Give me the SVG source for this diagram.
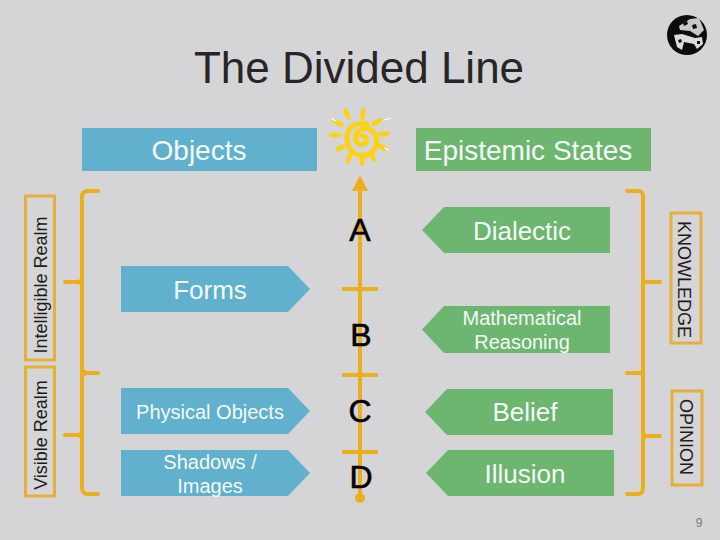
<svg xmlns="http://www.w3.org/2000/svg" width="720" height="540" viewBox="0 0 720 540">
<style>
text{font-family:"Liberation Sans",Arial,sans-serif;fill:#262626;text-anchor:middle}
.blue{fill:#60b0ce}.green{fill:#6cb670}
.lt{fill:#f6faf6}
.line{fill:none;stroke:#edae1e;stroke-width:4;stroke-linecap:round}
.rule{fill:none;stroke:#edae1e;stroke-width:4}
.flare{fill:#edae1e}
.box{fill:none;stroke:#e6af3a;stroke-width:3}
.sun{fill:#fcd116}
.spiral{fill:none;stroke:#fcd116;stroke-width:5;stroke-linecap:round}
.glint{fill:none;stroke:#fff;stroke-width:1.200;stroke-linecap:round}
.ltr{fill:#000;stroke:#000;stroke-width:.6}
.side{font-size:18px;fill:#1c1c1c}
</style>
<rect width="720" height="540" fill="#d5d5d7"/>
<text x="359" y="83" font-size="44">The Divided Line</text>
<g id="emblem"><circle cx="687" cy="35" r="20" fill="#0c0c0c"/>
<path d="M679 26L690 19L699 18L704 30L698 36L690 31L680 30Z" fill="#c8c8c8"/>
<path d="M674 35L682 34L695 38L702 37L703 44L697 49L694 44L684 42L682 50L677 47Z" fill="#dcdcdc"/>
<path d="M683 23l4-2 1 3-4 2zM692 25l4-1 1 4-4 1zM678 40l3-1 1 3-3 1zM697 41l3 0 0 3-3 0z" fill="#0c0c0c"/></g>
<g id="sun">
<path class="spiral" d="M367 124C353 121 346 130 347 140C348 152 358 157 367 155C377 152 379 140 374 133C369 126 358 128 356 135C354 141 358 146 364 144C368 142 368 136 362 136"/>
<g class="sun"><ellipse cx="347" cy="114" rx="2.600" ry="6.500" transform="rotate(-25 347 114)"/><ellipse cx="363" cy="114" rx="2.600" ry="6.500" transform="rotate(8 363 114)"/><ellipse cx="377" cy="122" rx="2.600" ry="6.500" transform="rotate(58 377 122)"/><ellipse cx="384" cy="134" rx="2.600" ry="6.500" transform="rotate(85 384 134)"/><ellipse cx="382" cy="147" rx="2.600" ry="6.500" transform="rotate(-58 382 147)"/><ellipse cx="372" cy="156" rx="2.600" ry="6.500" transform="rotate(-28 372 156)"/><ellipse cx="362" cy="160" rx="2.600" ry="6.500"/><ellipse cx="349" cy="158" rx="2.600" ry="6.500" transform="rotate(25 349 158)"/><ellipse cx="340" cy="148" rx="2.600" ry="5.500" transform="rotate(60 340 148)"/><ellipse cx="335" cy="135" rx="2.600" ry="6.500" transform="rotate(90 335 135)"/><ellipse cx="338" cy="123" rx="2.600" ry="6.500" transform="rotate(-62 338 123)"/></g>
<path class="glint" d="M384 120L391 118M332 119L336 121M385 148L388 150"/>
</g>
<g id="connectors">
<path d="M360 175l-8 16h16z" fill="#edae1e"/>
<path class="rule" d="M360 190V497M342 289h36M342 375h36M342 452h36"/>
<circle cx="360" cy="498" r="5" fill="#edae1e"/>
<path class="line" d="M98 191H88Q82 191 82 197V487Q82 494 88 494H98M82 373H98M65 282H82M65 435H82"/>
<path class="flare" d="M72 282L83 278V286ZM72 435L83 431V439ZM91 373L81 368V378Z"/>
<path class="line" d="M627 191H638Q643 191 643 197V487Q643 494 638 494H627M627 373H643M643 282H660M643 436H660"/>
<path class="flare" d="M652 282L642 278V286ZM652 436L642 432V440ZM636 373L644 369V377Z"/>
</g>
<g id="objects"><rect class="blue" x="82" y="128" width="235" height="43"/><text class="lt" x="199" y="160" font-size="28">Objects</text></g>
<g id="epistemic"><rect class="green" x="416" y="128" width="235" height="43"/><text class="lt" x="528" y="160" font-size="28">Epistemic States</text></g>
<g id="forms"><path class="blue" d="M121 266H288L310 289L288 312H121Z"/><text class="lt" x="210" y="299" font-size="26">Forms</text></g>
<g id="physical"><path class="blue" d="M121 388H288L310 411L288 434H121Z"/><text class="lt" x="210" y="419" font-size="20">Physical Objects</text></g>
<g id="shadows"><path class="blue" d="M121 450H288L310 473L288 496H121Z"/><text class="lt" x="210" y="469" font-size="20">Shadows /</text><text class="lt" x="210" y="493" font-size="20">Images</text></g>
<g id="dialectic"><path class="green" d="M610 207H444L422 230L444 253H610Z"/><text class="lt" x="522" y="240" font-size="26">Dialectic</text></g>
<g id="math"><path class="green" d="M610 306H444L422 329.500L444 353H610Z"/><text class="lt" x="522" y="325" font-size="20">Mathematical</text><text class="lt" x="522" y="349" font-size="20">Reasoning</text></g>
<g id="belief"><path class="green" d="M613 389H447L425 412L447 435H613Z"/><text class="lt" x="525" y="421" font-size="26">Belief</text></g>
<g id="illusion"><path class="green" d="M614 450H448L426 473L448 496H614Z"/><text class="lt" x="525" y="483" font-size="26">Illusion</text></g>
<g id="letters"><text class="ltr" x="360" y="241" font-size="32">A</text><text class="ltr" x="361" y="346" font-size="32">B</text><text class="ltr" x="360" y="422" font-size="32">C</text><text class="ltr" x="361" y="488" font-size="32">D</text></g>
<g id="intelligible"><rect class="box" x="25.500" y="196" width="29" height="164"/><text class="side" transform="translate(47 285) rotate(-90)">Intelligible Realm</text></g>
<g id="visible"><rect class="box" x="25.500" y="367" width="29" height="129"/><text class="side" transform="translate(47 435) rotate(-90)">Visible Realm</text></g>
<g id="knowledge"><rect class="box" x="671" y="213" width="30" height="130"/><text class="side" transform="translate(678 279.500) rotate(90)">KNOWLEDGE</text></g>
<g id="opinion"><rect class="box" x="672" y="391" width="30" height="94"/><text class="side" transform="translate(680 437) rotate(90)">OPINION</text></g>
<text x="699" y="527" font-size="12" style="fill:#777">9</text>
</svg>
